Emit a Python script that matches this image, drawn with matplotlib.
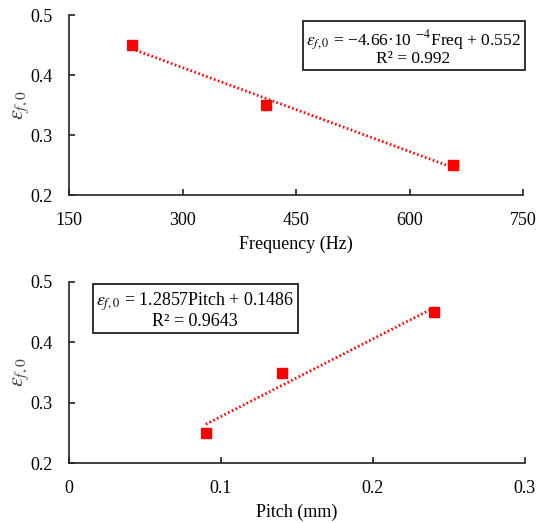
import matplotlib
matplotlib.use("Agg")
import matplotlib.pyplot as plt
import numpy as np

plt.rcParams['font.family'] = ['Liberation Serif', 'DejaVu Serif']
plt.rcParams['mathtext.fontset'] = 'stix'

# Data
freq = [233, 410, 658]
eps_freq = [0.45, 0.35, 0.25]
pitch = [0.09, 0.14, 0.24]
eps_pitch = [0.25, 0.35, 0.45]

freq_ticks = [150, 300, 450, 600, 750]
pitch_ticks = [0, 0.1, 0.2, 0.3]
pitch_ticklabels = ['0', '0.1', '0.2', '0.3']
y_ticks = [0.2, 0.3, 0.4, 0.5]
y_ticklabels = ['0.2', '0.3', '0.4', '0.5']

eq_top = r'$\varepsilon_{f,0}$ = −4.66·10 $^{-4}$Freq + 0.552' + '\nR² = 0.992'
eq_bot = r'$\varepsilon_{f,0}$ = 1.2857Pitch + 0.1486' + '\nR² = 0.9643'

fig = plt.figure(figsize=(5.37, 5.23), dpi=100)
ax1 = fig.add_axes([69/537, 1-195/523, 454/537, 180/523])
ax2 = fig.add_axes([69/537, 1-463/523, 456/537, 181/523])

red = '#ff0000'
fs = 13

def style(ax):
    for s in ['top', 'right']:
        ax.spines[s].set_visible(False)
    for s in ['left', 'bottom']:
        ax.spines[s].set_linewidth(1.2)
        ax.spines[s].set_color('#222222')
    ax.tick_params(direction='in', length=4, width=1.2, color='#222222',
                   labelsize=fs)
    ax.tick_params(axis='x', pad=12)
    ax.tick_params(axis='y', pad=12)
    ax.set_ylim(0.2, 0.5)
    ax.set_yticks(y_ticks)
    ax.set_yticklabels(y_ticklabels)
    ax.set_ylabel(r'$\varepsilon_{f,0}$', fontsize=16, labelpad=-1, color='#444444')

def draw(ax, x, y):
    x = np.array(x); y = np.array(y)
    c = np.polyfit(x, y, 1)
    xs = np.array([x.min(), x.max()])
    ax.plot(xs, np.polyval(c, xs), linestyle=(0, (0.6, 0.9)), color=red, lw=2.0,
            dash_capstyle='butt', zorder=2)
    ax.plot(x, y, 's', color=red, markersize=6.8, zorder=3, clip_on=False)

# Top
style(ax1)
draw(ax1, freq, eps_freq)
ax1.set_xlim(150, 750)
ax1.set_xticks(freq_ticks)
ax1.set_xlabel('Frequency (Hz)', fontsize=fs, labelpad=5)
ax1.text(0.759, 0.82, eq_top, transform=ax1.transAxes, ha='center', va='center',
         fontsize=12.5, linespacing=0.95,
         bbox=dict(boxstyle='square,pad=0.2', facecolor='white', edgecolor='#222222', lw=1.3))

# Bottom
style(ax2)
draw(ax2, pitch, eps_pitch)
ax2.set_xlim(0, 0.3)
ax2.set_xticks(pitch_ticks)
ax2.set_xticklabels(pitch_ticklabels)
ax2.set_xlabel('Pitch (mm)', fontsize=fs, labelpad=5)
ax2.text(0.277, 0.845, eq_bot, transform=ax2.transAxes, ha='center', va='center',
         fontsize=13, linespacing=0.95,
         bbox=dict(boxstyle='square,pad=0.2', facecolor='white', edgecolor='#222222', lw=1.3))

fig.savefig('out.png', dpi=100)
